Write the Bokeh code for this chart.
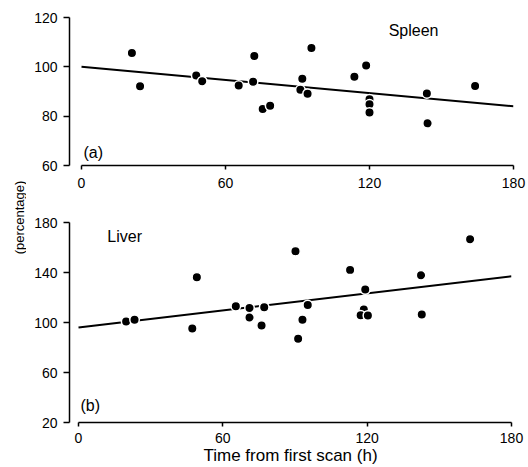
from math import pi
from bokeh.plotting import figure
from bokeh.layouts import row, column
from bokeh.models import Range1d, Label, FixedTicker
from bokeh.embed import file_html
from bokeh.resources import INLINE

# ---- data ----
time_spleen = [21, 24.4, 47.8, 50.3, 65.5, 72, 71.5, 75.5, 78.6, 92, 91.2, 94.2,
               95.8, 113.7, 118.6, 120, 120, 120, 143.9, 144.2, 164]
spleen = [105.6, 92.1, 96.5, 94.2, 92.4, 104.4, 94, 82.9, 84.2, 95.2, 90.7, 89.1,
          107.6, 96, 100.5, 86.9, 84.8, 81.5, 89.2, 77.1, 92.2]
spleen_fit_x = [0, 180]
spleen_fit_y = [100, 84]

time_liver = [19.8, 23.3, 47.3, 49.2, 65.4, 71.1, 71.1, 76.1, 77.2, 90.2, 91.3, 93.1,
              95.3, 112.9, 119.2, 118.6, 117.3, 120.3, 142.4, 142.7, 162.8]
liver = [100.8, 102.2, 95.2, 136.2, 113, 111.7, 104, 97.6, 112.3, 157.1, 87, 102.2,
         114.1, 142.1, 126.4, 110.4, 105.9, 105.6, 137.8, 106.4, 166.7]
liver_fit_x = [0, 180]
liver_fit_y = [96, 137]

x_ticks = [0, 60, 120, 180]
spleen_ticks = [60, 80, 100, 120]
liver_ticks = [20, 60, 100, 140, 180]

FONT = "Liberation Sans"


def style(p, xt, yt, ybounds, x_standoff):
    p.xgrid.visible = False
    p.ygrid.visible = False
    p.outline_line_color = None
    for ax in (p.xaxis[0], p.yaxis[0]):
        ax.axis_line_width = 1.5
        ax.axis_line_color = "black"
        ax.major_tick_line_width = 1.5
        ax.major_tick_line_color = "black"
        ax.minor_tick_line_color = None
        ax.major_tick_in = 0
        ax.major_label_text_font = FONT
        ax.major_label_text_font_size = "14px"
        ax.major_label_text_color = "black"
    p.xaxis[0].ticker = FixedTicker(ticks=xt)
    p.xaxis[0].bounds = (0, 180)
    p.xaxis[0].major_tick_out = 4
    p.xaxis[0].major_label_standoff = x_standoff
    p.yaxis[0].ticker = FixedTicker(ticks=yt)
    p.yaxis[0].bounds = ybounds
    p.yaxis[0].major_tick_out = 6
    p.yaxis[0].major_label_standoff = 6


# ---- top panel: spleen ----
p1 = figure(frame_width=444, frame_height=148, x_range=Range1d(-5, 180),
            y_range=Range1d(60, 120), output_backend="svg", toolbar_location=None,
            min_border_left=38, min_border_right=20, min_border_top=17,
            min_border_bottom=30)
style(p1, x_ticks, spleen_ticks, (60, 120), 8)
p1.line(spleen_fit_x, spleen_fit_y, line_color="black", line_width=2)
p1.scatter(time_spleen, spleen, size=9.5, fill_color="black", line_color="white",
           line_width=1.5)
p1.add_layout(Label(x=128, y=114.7, text="Spleen", text_font=FONT,
                    text_font_size="16px", text_baseline="middle", text_color="black"))
p1.add_layout(Label(x=0.8, y=65.4, text="(a)", text_font=FONT,
                    text_font_size="16px", text_baseline="middle", text_color="black"))

# ---- bottom panel: liver ----
p2 = figure(frame_width=442, frame_height=200, x_range=Range1d(-3.74, 180),
            y_range=Range1d(20, 180), output_backend="svg", toolbar_location=None,
            min_border_left=43, min_border_right=17, min_border_top=27,
            min_border_bottom=45)
style(p2, x_ticks, liver_ticks, (20, 180), 6)
p2.xaxis[0].axis_label = "Time from first scan (h)"
p2.xaxis[0].axis_label_text_font = FONT
p2.xaxis[0].axis_label_text_font_size = "17px"
p2.xaxis[0].axis_label_text_font_style = "normal"
p2.xaxis[0].axis_label_text_color = "black"
p2.xaxis[0].axis_label_standoff = 0
p2.line(liver_fit_x, liver_fit_y, line_color="black", line_width=2)
p2.scatter(time_liver, liver, size=9.5, fill_color="black", line_color="white",
           line_width=1.5)
p2.add_layout(Label(x=12, y=168.8, text="Liver", text_font=FONT,
                    text_font_size="16px", text_baseline="middle", text_color="black"))
p2.add_layout(Label(x=0.8, y=34, text="(b)", text_font=FONT,
                    text_font_size="16px", text_baseline="middle", text_color="black"))

# ---- shared y-axis title ----
p0 = figure(width=26, height=467, x_range=Range1d(0, 26), y_range=Range1d(0, 467),
            x_axis_type=None, y_axis_type=None, output_backend="svg",
            toolbar_location=None, min_border=0)
p0.outline_line_color = None
p0.xgrid.visible = False
p0.ygrid.visible = False
p0.add_layout(Label(x=19, y=250, text="(percentage)", angle=pi / 2, text_font=FONT,
                    text_font_size="13px", text_align="center", text_baseline="middle",
                    text_color="black"))

layout = row(p0, column(p1, p2))
open("out.html", "w").write(file_html(layout, INLINE))
